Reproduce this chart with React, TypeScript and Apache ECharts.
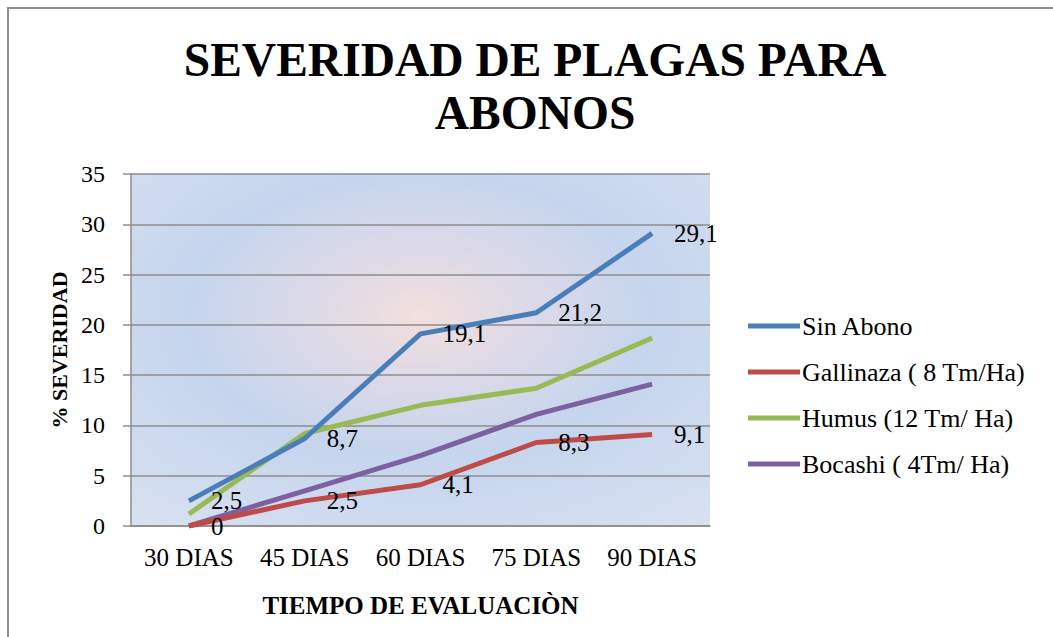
import React, { useEffect, useRef } from "react";
import * as echarts from "echarts";

const categories = ["30 DIAS", "45 DIAS", "60 DIAS", "75 DIAS", "90 DIAS"];
const sinAbono = [2.5, 8.7, 19.1, 21.2, 29.1];
const gallinaza = [0, 2.5, 4.1, 8.3, 9.1];
const humus = [1.2, 9.2, 12.0, 13.7, 18.7];
const bocashi = [0, 3.5, 7.0, 11.1, 14.1];
const seriesNames = ["Sin Abono", "Gallinaza ( 8 Tm/Ha)", "Humus (12 Tm/ Ha)", "Bocashi ( 4Tm/ Ha)"];
const colors = ["#4a7ebb", "#be4b48", "#98b954", "#7d60a0"];

const FONT = "Liberation Serif";

export default function App() {
  const ref = useRef<HTMLDivElement>(null);
  useEffect(() => {
    if (!ref.current) return;
    const chart = echarts.init(ref.current, undefined, { renderer: "svg" });
    const label = (show: boolean) => ({
      show,
      position: "right",
      distance: 22,
      offset: [0, 3],
      fontSize: 25,
      lineHeight: 22,
      color: "#000",
      fontFamily: FONT,
      formatter: (p: any) => String(p.value).replace(".", ","),
    });
    const datasets = [sinAbono, gallinaza, humus, bocashi];
    // the first labels of the two labelled series sit close together
    const firstOffsets = [[0, -6], [0, 6]];
    chart.setOption({
      animation: false,
      textStyle: { fontFamily: FONT },
      title: {
        text: "SEVERIDAD DE PLAGAS PARA\nABONOS",
        left: 530,
        top: 28,
        textAlign: "center",
        textStyle: {
          fontFamily: FONT,
          fontWeight: "bold",
          fontSize: 47.5,
          lineHeight: 53,
          color: "#000",
        },
      },
      graphic: [
        {
          type: "rect",
          shape: { x: 8, y: 8, width: 1100, height: 700 },
          style: { fill: "none", stroke: "#8e8e8e", lineWidth: 2 },
          silent: true,
        },
      ],
      legend: {
        orient: "vertical",
        left: 748,
        top: 313,
        padding: 0,
        icon: "rect",
        itemWidth: 52,
        itemHeight: 5,
        itemGap: 20,
        textStyle: { fontFamily: FONT, fontSize: 26, lineHeight: 26, color: "#000", padding: [0, 0, 0, -3] },
        data: seriesNames,
      },
      grid: {
        left: 131,
        right: 343,
        top: 174,
        bottom: 111,
        show: true,
        borderWidth: 0,
        backgroundColor: new echarts.graphic.RadialGradient(0.5, 0.4, 0.95, [
          { offset: 0, color: "#f3dfdd" },
          { offset: 0.2, color: "#dcd9e8" },
          { offset: 0.42, color: "#c5d5ed" },
          { offset: 0.7, color: "#d2ddf0" },
          { offset: 1, color: "#e3e9f4" },
        ]),
      },
      xAxis: {
        type: "category",
        data: categories,
        boundaryGap: true,
        name: "TIEMPO DE EVALUACIÒN",
        nameLocation: "middle",
        nameGap: 67,
        nameTextStyle: { fontFamily: FONT, fontWeight: "bold", fontSize: 25, color: "#000" },
        axisLine: { show: true, lineStyle: { color: "#8c8c8c", width: 1.5 } },
        axisTick: { show: false },
        axisLabel: { fontFamily: FONT, fontSize: 25, color: "#000", margin: 19, interval: 0, hideOverlap: false },
        splitLine: { show: false },
      },
      yAxis: {
        type: "value",
        min: 0,
        max: 35,
        interval: 5,
        name: "% SEVERIDAD",
        nameLocation: "middle",
        nameGap: 60,
        nameTextStyle: { fontFamily: FONT, fontWeight: "bold", fontSize: 22, color: "#000" },
        axisLine: { show: true, lineStyle: { color: "#8c8c8c", width: 1.5 } },
        axisTick: { show: true, inside: false, length: 8, lineStyle: { color: "#8c8c8c", width: 1.5 } },
        axisLabel: { fontFamily: FONT, fontSize: 24, color: "#000", margin: 26 },
        splitLine: { show: true, lineStyle: { color: "#8c8c8c", width: 1.5 } },
      },
      series: datasets.map((d, i) => ({
        name: seriesNames[i],
        type: "line",
        data: d.map((v, j) =>
          j === 0 && i < 2 ? { value: v, label: { offset: firstOffsets[i] } } : v
        ),
        color: colors[i],
        showSymbol: true,
        symbol: "circle",
        symbolSize: 0.01,
        lineStyle: { width: 5, color: colors[i] },
        label: label(i < 2),
        labelLayout: { hideOverlap: false },
        z: 10 - i,
      })),
    });
    return () => chart.dispose();
  }, []);
  return (
    <div
      ref={ref}
      style={{ position: "fixed", left: 0, top: 0, width: 1053, height: 637, background: "#fff" }}
    />
  );
}
